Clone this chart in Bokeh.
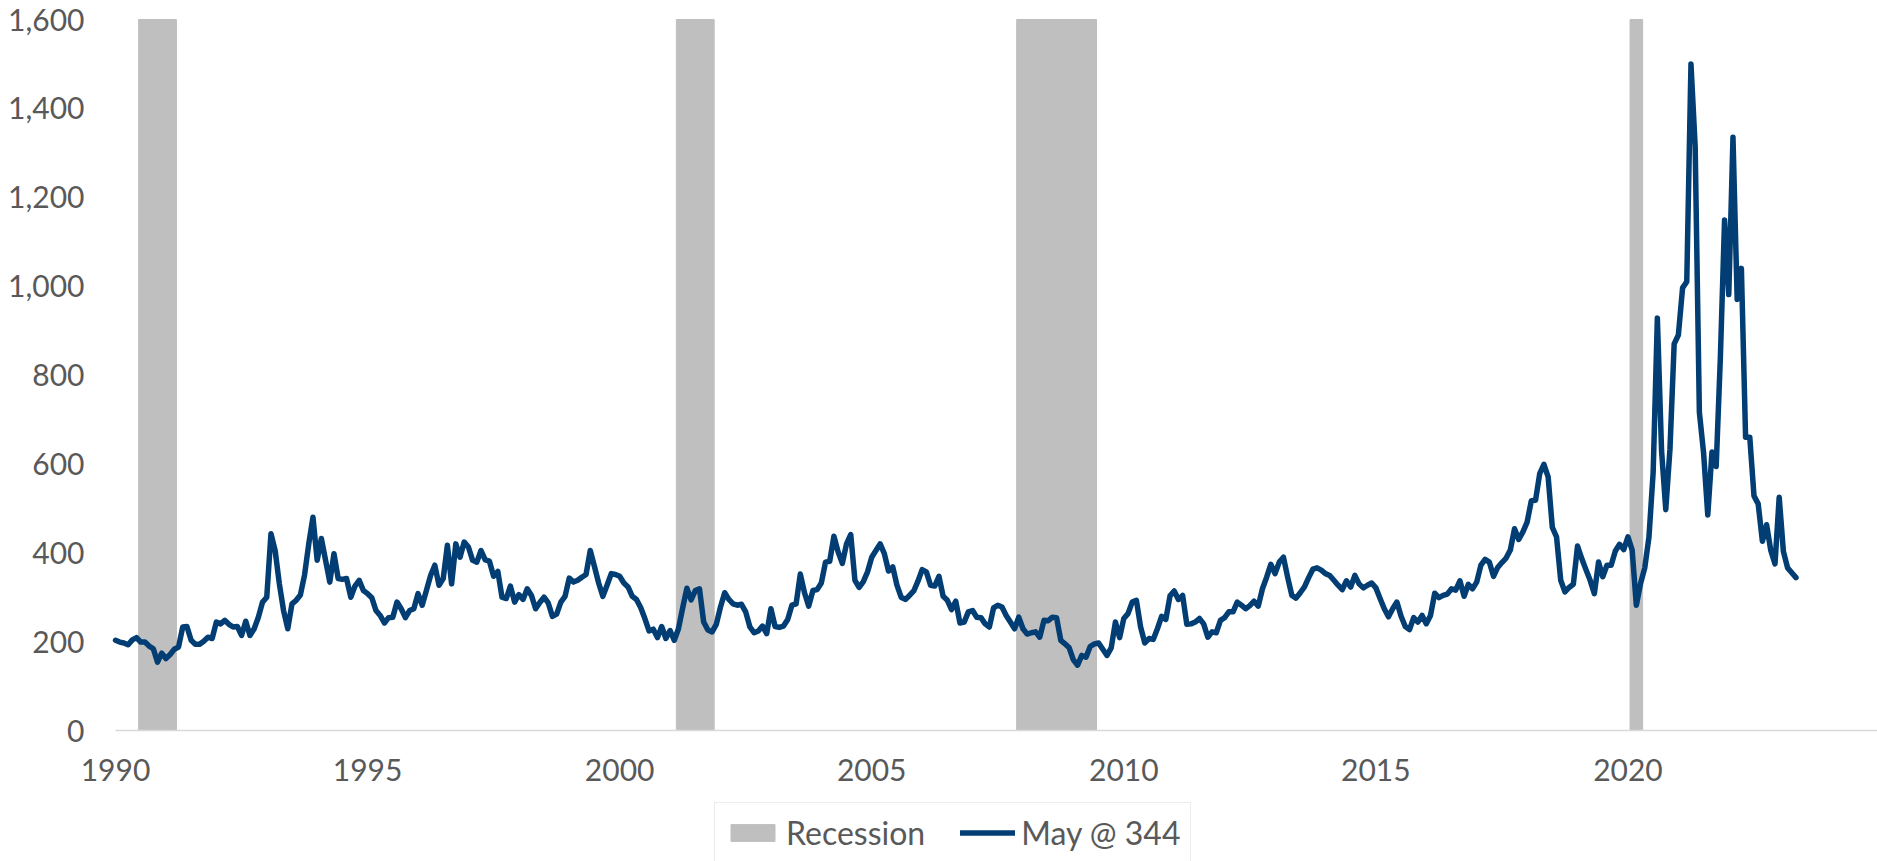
from bokeh.plotting import figure
from bokeh.models import (ColumnDataSource, FixedTicker, NumeralTickFormatter,
                          Legend, LegendItem, Range1d)
from bokeh.embed import file_html
from bokeh.resources import INLINE

# ---------------- data ----------------
START_YEAR = 1990          # first observation: January 1990, monthly
series_label = "May @ 344"
recession_label = "Recession"

lumber = [
    203, 199, 197, 193, 204, 209, 199, 199, 190, 184, 154, 174,
    162, 171, 183, 188, 233, 234, 203, 194, 194, 201, 210, 207,
    244, 240, 248, 239, 233, 234, 214, 246, 214, 229, 255, 289,
    300, 443, 405, 330, 270, 229, 285, 293, 305, 350, 420, 480,
    383, 432, 383, 334, 398, 342, 340, 342, 300, 325, 338, 315,
    308, 299, 270, 259, 242, 254, 255, 289, 274, 254, 270, 274,
    308, 282, 315, 349, 372, 327, 342, 417, 330, 420, 390, 424,
    413, 383, 379, 405, 384, 381, 347, 358, 300, 297, 325, 289,
    306, 295, 319, 304, 274, 288, 300, 287, 257, 262, 289, 302,
    343, 334, 338, 345, 351, 405, 369, 332, 302, 327, 353, 351,
    347, 332, 323, 302, 295, 277, 252, 224, 228, 209, 234, 207,
    225, 203, 229, 276, 320, 294, 315, 319, 244, 226, 222, 239,
    278, 310, 295, 285, 282, 284, 267, 233, 220, 224, 235, 218,
    274, 234, 232, 235, 250, 282, 285, 352, 310, 280, 315, 317,
    332, 379, 381, 437, 402, 376, 420, 441, 338, 322, 335, 357,
    390, 405, 420, 398, 359, 368, 327, 300, 295, 304, 314, 336,
    362, 357, 327, 325, 347, 302, 293, 272, 291, 242, 244, 267,
    270, 255, 254, 240, 233, 276, 282, 278, 259, 244, 229, 255,
    229, 217, 220, 222, 210, 248, 247, 255, 254, 203, 195, 186,
    159, 147, 169, 165, 189, 195, 197, 183, 169, 186, 244, 209,
    252, 263, 289, 293, 233, 197, 207, 205, 229, 257, 250, 303,
    314, 295, 304, 239, 240, 244, 252, 240, 210, 222, 220, 248,
    254, 267, 267, 289, 282, 274, 281, 291, 280, 319, 345, 374,
    353, 379, 390, 345, 304, 298, 310, 323, 344, 363, 366, 361,
    353, 349, 338, 327, 317, 337, 323, 349, 330, 321, 327, 332,
    321, 297, 274, 256, 274, 289, 257, 234, 227, 254, 244, 259,
    240, 259, 309, 299, 304, 307, 319, 316, 337, 302, 329, 319,
    334, 372, 385, 379, 347, 367, 378, 388, 406, 454, 430, 447,
    469, 517, 518, 578, 599, 571, 457, 436, 338, 312, 322, 329,
    415, 387, 362, 338, 308, 379, 346, 372, 372, 404, 419, 407,
    436, 406, 282, 331, 366, 435, 581, 928, 630, 497, 633, 870,
    890, 996, 1010, 1500, 1315, 716, 625, 485, 627, 594, 840, 1149,
    981, 1335, 970, 1040, 660, 660, 528, 510, 426, 463, 405, 375,
    525, 403, 366, 355, 344,
]

recession_start = ["1990-07", "2001-03", "2007-12", "2020-02"]
recession_end = ["1991-03", "2001-11", "2009-06", "2020-04"]

y_ticks = [0, 200, 400, 600, 800, 1000, 1200, 1400, 1600]
x_ticks = [1990, 1995, 2000, 2005, 2010, 2015, 2020]


def month_pos(ym):
    y, m = ym.split("-")
    return int(y) + (int(m) - 1) / 12


# ---------------- styling ----------------
TEXT = "#595959"
FONT = "Lato"
LINE_COLOR = "#023e73"
REC_COLOR = "#bfbfbf"
AXIS_COLOR = "#d9d9d9"

x_vals = [START_YEAR + i / 12 for i in range(len(lumber))]
src = ColumnDataSource(dict(x=x_vals, y=lumber))

rec_src = ColumnDataSource(dict(
    left=[month_pos(s) - 0.5 / 12 for s in recession_start],
    right=[month_pos(e) + 0.5 / 12 for e in recession_end],
    bottom=[0] * len(recession_start),
    top=[y_ticks[-1]] * len(recession_start),
))

X_END = 2024.95
# the frame fills the whole canvas; both axes are pinned inside it so the
# tick labels and the legend all sit in the frame (nothing gets clipped)
p = figure(width=1877, height=861, output_backend="svg", toolbar_location=None,
           x_range=Range1d(START_YEAR - 115 / 50.41, X_END),
           y_range=Range1d(-294.75, 1642.75),
           min_border_left=0, min_border_right=0, min_border_top=0,
           min_border_bottom=0)
p.outline_line_color = None
p.background_fill_color = "white"
p.border_fill_color = "white"
p.xgrid.visible = False
p.ygrid.visible = False

rec = p.quad(left="left", right="right", bottom="bottom", top="top", source=rec_src,
             fill_color=REC_COLOR, line_color=REC_COLOR, line_width=1)
ln = p.line("x", "y", source=src, line_color=LINE_COLOR, line_width=5.5,
            line_join="round", line_cap="round")

# y axis, pinned at the first date
p.yaxis.fixed_location = START_YEAR
p.yaxis.ticker = FixedTicker(ticks=y_ticks)
p.yaxis.formatter = NumeralTickFormatter(format="0,0")
p.yaxis.axis_line_color = None
p.yaxis.major_tick_line_color = None
p.yaxis.minor_tick_line_color = None
p.yaxis.major_tick_out = 0
p.yaxis.major_tick_in = 0
p.yaxis.major_label_standoff = 31
p.yaxis.major_label_text_font = FONT
p.yaxis.major_label_text_font_size = "30px"
p.yaxis.major_label_text_color = TEXT

# x axis, pinned at value 0
p.xaxis.fixed_location = 0
p.xaxis.bounds = (START_YEAR, X_END)
p.xaxis.ticker = FixedTicker(ticks=x_ticks)
p.xaxis.formatter = NumeralTickFormatter(format="0")
p.xaxis.axis_line_color = AXIS_COLOR
p.xaxis.axis_line_width = 1.5
p.xaxis.major_tick_line_color = None
p.xaxis.minor_tick_line_color = None
p.xaxis.major_tick_out = 0
p.xaxis.major_tick_in = 0
p.xaxis.major_label_standoff = 28
p.xaxis.major_label_text_font = FONT
p.xaxis.major_label_text_font_size = "30px"
p.xaxis.major_label_text_color = TEXT

legend = Legend(items=[LegendItem(label=recession_label, renderers=[rec]),
                       LegendItem(label=series_label, renderers=[ln])],
                orientation="horizontal", location=(714, -2))
legend.border_line_color = AXIS_COLOR
legend.border_line_width = 1.5
legend.background_fill_color = "white"
legend.background_fill_alpha = 1
legend.padding = 10
legend.spacing = 35
legend.margin = 0
legend.label_standoff = 6
legend.glyph_width = 55
legend.glyph_height = 21
legend.label_text_font = FONT
legend.label_text_font_size = "32px"
legend.label_text_color = TEXT
p.add_layout(legend)

open("out.html", "w").write(file_html(p, INLINE))
